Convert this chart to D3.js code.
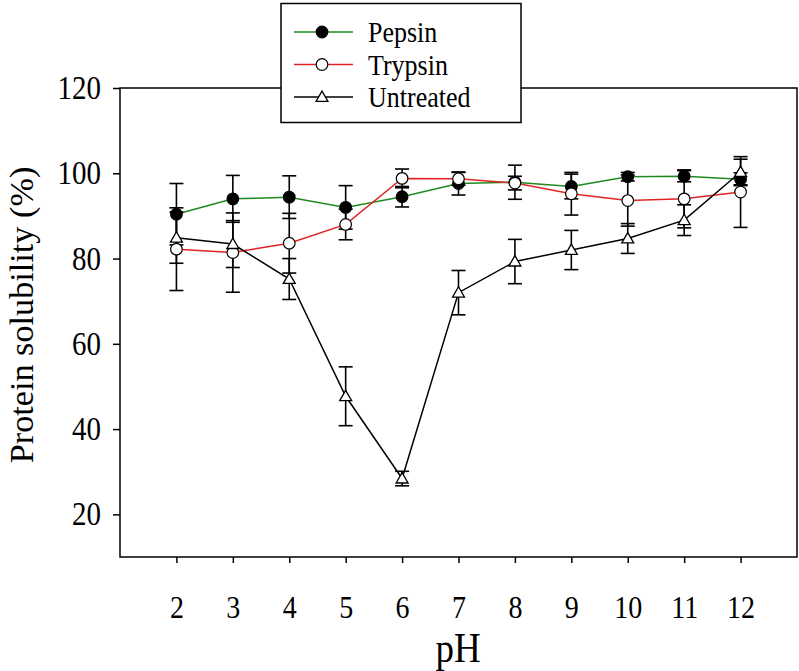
<!DOCTYPE html>
<html><head><meta charset="utf-8">
<script src="https://cdn.jsdelivr.net/npm/d3@7"></script>
<style>body{margin:0;background:#fff}svg{display:block}text{font-family:"Liberation Serif","Times New Roman",serif;fill:#000}</style>
</head><body><svg id="c" width="799" height="671"></svg>
<script>
const pH = [2,3,4,5,6,7,8,9,10,11,12];
const pepsin    = [90.4, 94.0, 94.4, 92.0, 94.5, 97.6, 97.9, 96.9, 99.2, 99.3, 98.6];
const pepsinErr = [7.2, 5.5, 5.0, 5.1, 2.4, 2.7, 4.0, 2.9, 1.0, 1.3, 1.5];
const trypsin    = [82.2, 81.4, 83.6, 88.0, 98.8, 98.7, 97.7, 95.2, 93.6, 94.0, 95.6];
const trypsinErr = [9.7, 9.3, 7.0, 3.6, 2.2, 1.5, 1.6, 5.0, 6.0, 6.8, 8.3];
const untreated    = [84.9, 83.4, 75.2, 47.7, 28.4, 72.0, 79.3, 82.0, 84.7, 89.0, 100.3];
const untreatedErr = [6.0, 5.5, 4.8, 6.9, 1.7, 5.2, 5.2, 4.6, 3.5, 3.6, 3.0];
const yTicks = [20,40,60,80,100,120];
const seriesNames = ["Pepsin","Trypsin","Untreated"];
const seriesColors = ["#1f8a1f","#e02424","#000000"];

const svg = d3.select("#c");
const L=120, R=797, T=88, B=557;
const x = d3.scaleLinear().domain([1,13]).range([L,R]);
const y = d3.scaleLinear().domain([10,120]).range([B,T]);
const SY = 1.15; // vertical stretch of glyphs

svg.append("rect").attr("x",L).attr("y",T).attr("width",R-L).attr("height",B-T)
  .attr("fill","none").attr("stroke","#000").attr("stroke-width",1.5);

const xAxis = svg.append("g").attr("transform",`translate(0,${B})`)
  .call(d3.axisBottom(x).tickValues(pH).tickSize(6).tickFormat(""));
xAxis.select(".domain").remove();
xAxis.selectAll("line").attr("stroke-width",1.5);
xAxis.selectAll(".tick").append("text")
  .attr("transform",`translate(0,61) scale(1,${SY})`).attr("text-anchor","middle")
  .style("font-size","28px").text(d=>d);

const yAxis = svg.append("g").attr("transform",`translate(${L},0)`)
  .call(d3.axisLeft(y).tickValues(yTicks).tickSize(7).tickFormat(""));
yAxis.select(".domain").remove();
yAxis.selectAll("line").attr("stroke-width",1.5);
yAxis.selectAll(".tick").append("text")
  .attr("transform",`translate(-19,10.5) scale(1,${SY})`).attr("text-anchor","end")
  .style("font-size","29px").text(d=>d);

svg.append("text").attr("transform",`translate(458,662) scale(1,${SY})`).attr("text-anchor","middle")
  .style("font-size","37px").text("pH");
svg.append("text").attr("transform",`translate(33,315) rotate(-90) scale(1.07,1.05)`).attr("text-anchor","middle")
  .style("font-size","32px").text("Protein solubility (%)");

const data = [
  {vals:pepsin, err:pepsinErr, marker:"filled"},
  {vals:trypsin, err:trypsinErr, marker:"open"},
  {vals:untreated, err:untreatedErr, marker:"tri"}
];

const line = d3.line().x((d,i)=>x(pH[i])).y(d=>y(d));
const cap = 7;
const triPath = d3.symbol().type(d3.symbolTriangle).size(62);

data.forEach((s,k)=>{
  svg.append("path").datum(s.vals).attr("d",line).attr("fill","none")
    .attr("stroke",seriesColors[k]).attr("stroke-width",1.5);
});
data.forEach((s,k)=>{
  const g = svg.append("g").attr("stroke","#000").attr("stroke-width",1.6);
  s.vals.forEach((v,i)=>{
    const cx = x(pH[i]), y1 = y(v+s.err[i]), y2 = y(v-s.err[i]);
    g.append("line").attr("x1",cx).attr("x2",cx).attr("y1",y1).attr("y2",y2);
    g.append("line").attr("x1",cx-cap).attr("x2",cx+cap).attr("y1",y1).attr("y2",y1);
    g.append("line").attr("x1",cx-cap).attr("x2",cx+cap).attr("y1",y2).attr("y2",y2);
  });
});
function drawMarker(g, type, cx, cy){
  if(type==="filled") g.append("circle").attr("cx",cx).attr("cy",cy).attr("r",5.8).attr("fill","#000").attr("stroke","#000").attr("stroke-width",1.2);
  else if(type==="open") g.append("circle").attr("cx",cx).attr("cy",cy).attr("r",5.8).attr("fill","#fff").attr("stroke","#000").attr("stroke-width",1.2);
  else g.append("path").attr("d",triPath()).attr("transform",`translate(${cx},${cy+1})`).attr("fill","#fff").attr("stroke","#000").attr("stroke-width",1.3);
}
data.forEach((s,k)=>{
  const g = svg.append("g");
  s.vals.forEach((v,i)=>drawMarker(g, s.marker, x(pH[i]), y(v)));
});

const lg = svg.append("g");
lg.append("rect").attr("x",281).attr("y",3.5).attr("width",240).attr("height",119)
  .attr("fill","#fff").attr("stroke","#000").attr("stroke-width",1.5);
seriesNames.forEach((n,k)=>{
  const yy = 32 + k*32.5;
  lg.append("line").attr("x1",294).attr("x2",353).attr("y1",yy).attr("y2",yy)
    .attr("stroke",seriesColors[k]).attr("stroke-width",1.5);
  drawMarker(lg, data[k].marker, 322, yy);
  lg.append("text").attr("transform",`translate(368,${yy+10}) scale(1,${SY})`).style("font-size","26px").text(n);
});
</script></body></html>
